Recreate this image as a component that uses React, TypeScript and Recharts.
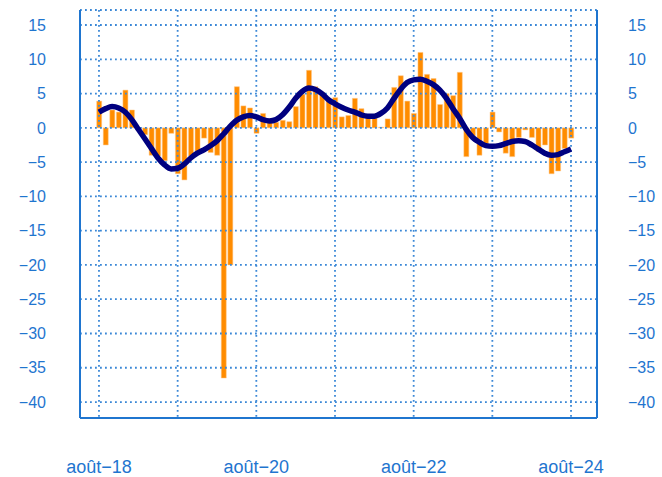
import { Bar, CartesianGrid, ComposedChart, Line, XAxis, YAxis } from "recharts";

// mois d'août 2018 à août 2024
const monthNames = ["janv", "févr", "mars", "avr", "mai", "juin", "juil", "août", "sept", "oct", "nov", "déc"];
const periods = Array.from({ length: 73 }, (_, i) => {
  const m = (7 + i) % 12;
  const y = 18 + Math.floor((7 + i) / 12);
  return `${monthNames[m]}\u2212${y}`;
});

// variation mensuelle (barres)
const monthly = [
  3.9, -2.5, 2.6, 2.3, 5.5, 2.6, -0.4, -1.0, -4.0, -4.1, -4.8, -0.8,
  -6.7, -7.6, -4.1, -3.4, -1.5, -3.6, -4.0, -36.5, -20.0, 6.0, 3.2, 2.9,
  -0.8, 2.1, 1.3, 0.8, 1.1, 0.9, 3.1, 4.9, 8.4, 6.0, 5.2, 3.9,
  4.4, 1.6, 1.8, 4.3, 2.8, 1.6, 1.4, 0.1, 1.3, 5.9, 7.6, 3.9,
  2.1, 11.0, 7.8, 7.2, 3.4, 5.0, 4.7, 8.1, -4.2, -1.2, -4.0, -2.3,
  2.3, -0.6, -3.7, -4.2, -1.4, -0.3, -1.4, -3.4, -2.5, -6.7, -6.3, -3.0,
  -1.5,
];

// tendance lissée (courbe)
const trend = [
  2.3, 2.8, 3.1, 2.9, 2.3, 1.2, -0.2, -1.6, -3.0, -4.4, -5.4, -6.0,
  -5.9, -5.3, -4.4, -3.7, -3.2, -2.6, -1.9, -0.9, 0.2, 1.1, 1.6, 1.8,
  1.6, 1.2, 1.0, 1.2, 1.9, 3.0, 4.3, 5.3, 5.8, 5.6, 5.0, 4.1,
  3.5, 3.0, 2.6, 2.3, 1.9, 1.7, 1.7, 2.1, 2.9, 4.3, 5.6, 6.6,
  7.0, 7.1, 6.8, 6.3, 5.5, 4.3, 2.8, 1.4, -0.2, -1.4, -2.1, -2.6,
  -2.7, -2.6, -2.3, -2.0, -1.9, -2.0, -2.5, -3.1, -3.7, -4.0, -3.9, -3.5,
  -3.1,
];

const yTicks = [-40, -35, -30, -25, -20, -15, -10, -5, 0, 5, 10, 15];
const xTicks = periods.filter((_, i) => i % 12 === 0);
const xLabels = ["août\u221218", "août\u221220", "août\u221222", "août\u221224"];

const data = periods.map((period, i) => ({ period, monthly: monthly[i], trend: trend[i] }));

const blue = "#1f75cf";
const font = "'Liberation Sans', Arial, sans-serif";
const pad = { left: 15.7, right: 22.7 };
const fmtY = (v: number) => (v < 0 ? `\u2212${-v}` : `${v}`);

export default function App() {
  return (
    <div style={{ position: "absolute", left: 0, top: 0 }}>
      <ComposedChart
        width={662}
        height={477}
        data={data}
        margin={{ top: 10, right: 0, bottom: 0, left: 0 }}
        barCategoryGap={0}
      >
        <CartesianGrid
          yAxisId="left"
          stroke="#3a87d6"
          strokeDasharray="1.8 3.2"
          strokeWidth={1.8}
          zIndex={350}
        />
        <XAxis
          dataKey="period"
          ticks={xTicks}
          interval={0}
          padding={pad}
          tickFormatter={(v: string) => (xLabels.includes(v) ? v : "")}
          tickLine={false}
          tickSize={0}
          tickMargin={42}
          height={59}
          axisLine={{ stroke: blue, strokeWidth: 2 }}
          tick={{ fill: blue, fontSize: 18, fontFamily: font }}
        />
        <XAxis
          xAxisId="top"
          orientation="top"
          dataKey="period"
          padding={pad}
          tick={false}
          tickLine={false}
          height={0}
          axisLine={{ stroke: blue, strokeWidth: 2 }}
        />
        <YAxis
          yAxisId="left"
          domain={[-42.33, 17.19]}
          allowDataOverflow
          ticks={yTicks}
          tickFormatter={fmtY}
          width={80}
          tickLine={false}
          tickSize={0}
          tickMargin={34}
          axisLine={{ stroke: blue, strokeWidth: 2 }}
          tick={{ fill: blue, fontSize: 16, fontFamily: font }}
        />
        <YAxis
          yAxisId="right"
          orientation="right"
          domain={[-42.33, 17.19]}
          allowDataOverflow
          ticks={yTicks}
          tickFormatter={fmtY}
          width={65}
          tickLine={false}
          tickSize={0}
          tickMargin={31}
          axisLine={{ stroke: blue, strokeWidth: 2 }}
          tick={{ fill: blue, fontSize: 16, fontFamily: font, textAnchor: "start" }}
        />
        <Bar
          yAxisId="left"
          dataKey="monthly"
          barSize={5}
          fill="#ff8c00"
          stroke="#ffc98a"
          strokeWidth={0.5}
          isAnimationActive={false}
        />
        <Line
          yAxisId="left"
          type="monotone"
          dataKey="trend"
          stroke="#00007f"
          strokeWidth={5.5}
          dot={false}
          activeDot={false}
          isAnimationActive={false}
        />
      </ComposedChart>
    </div>
  );
}
